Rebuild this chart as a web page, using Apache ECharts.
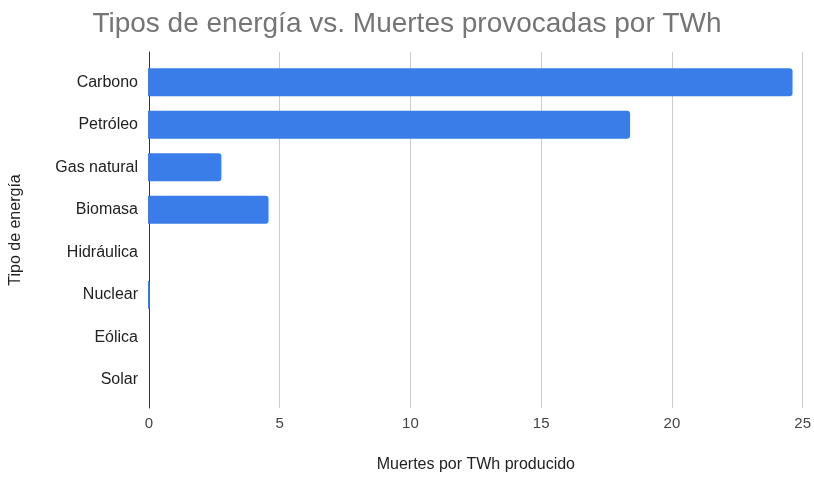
<!DOCTYPE html>
<html>
<head>
<meta charset="utf-8">
<script src="https://cdn.jsdelivr.net/npm/echarts@6/dist/echarts.min.js"></script>
<style>
  html, body { margin: 0; padding: 0; background: #fff; }
  #chart { width: 814px; height: 478px; }
</style>
</head>
<body>
<div id="chart"></div>
<script>
// Energy sources and deaths per TWh produced
const categories = ['Carbono', 'Petróleo', 'Gas natural', 'Biomasa', 'Hidráulica', 'Nuclear', 'Eólica', 'Solar'];
const deathsPerTWh = [24.6, 18.4, 2.8, 4.6, 0, 0.07, 0, 0];
const xTicks = [0, 5, 10, 15, 20, 25];

const FONT = '"Liberation Sans", Arial, sans-serif';
const X_MIN = xTicks[0];
const X_MAX = xTicks[xTicks.length - 1];
const X_STEP = xTicks[1] - xTicks[0];

const chart = echarts.init(document.getElementById('chart'));
chart.setOption({
  backgroundColor: '#ffffff',
  animation: false,
  title: {
    text: 'Tipos de energía vs. Muertes provocadas por TWh',
    left: 'center',
    top: 5,
    textStyle: { fontFamily: FONT, fontSize: 28, fontWeight: 'normal', color: '#757575' }
  },
  grid: [
    // frame grid: gridlines, axis line and tick labels
    { left: 148, right: 11, top: 52, bottom: 68 },
    // bar grid
    { left: 148, right: 11, top: 61, bottom: 77 }
  ],
  xAxis: [
    {
      gridIndex: 0,
      type: 'value',
      min: X_MIN, max: X_MAX, interval: X_STEP,
      name: 'Muertes por TWh producido',
      nameLocation: 'middle',
      nameGap: 49,
      nameTextStyle: { fontFamily: FONT, fontSize: 16, color: '#222' },
      axisLine: { show: false },
      axisTick: { show: false },
      axisLabel: { fontFamily: FONT, fontSize: 15, color: '#444', margin: 8 },
      splitLine: { show: true, lineStyle: { color: '#cccccc', width: 1 } }
    },
    {
      gridIndex: 1,
      type: 'value',
      min: X_MIN, max: X_MAX, interval: X_STEP,
      show: false,
      splitLine: { show: false }
    }
  ],
  yAxis: [
    {
      gridIndex: 0,
      type: 'value',
      min: 0, max: 1,
      axisLine: { show: true, onZero: false, lineStyle: { color: '#333333', width: 1 } },
      axisTick: { show: false },
      axisLabel: { show: false },
      splitLine: { show: false },
      name: 'Tipo de energía',
      nameLocation: 'middle',
      nameGap: 125,
      nameRotate: 90,
      nameTextStyle: { fontFamily: FONT, fontSize: 16, color: '#222' }
    },
    {
      gridIndex: 1,
      type: 'category',
      data: categories,
      inverse: true,
      axisLine: { show: false },
      axisTick: { show: false },
      axisLabel: { fontFamily: FONT, fontSize: 16, color: '#222', margin: 10 }
    }
  ],
  series: [{
    type: 'bar',
    xAxisIndex: 1,
    yAxisIndex: 1,
    data: deathsPerTWh,
    barWidth: 28,
    itemStyle: { color: '#3b7de8', borderRadius: [0, 3, 3, 0] }
  }]
});
</script>
</body>
</html>
